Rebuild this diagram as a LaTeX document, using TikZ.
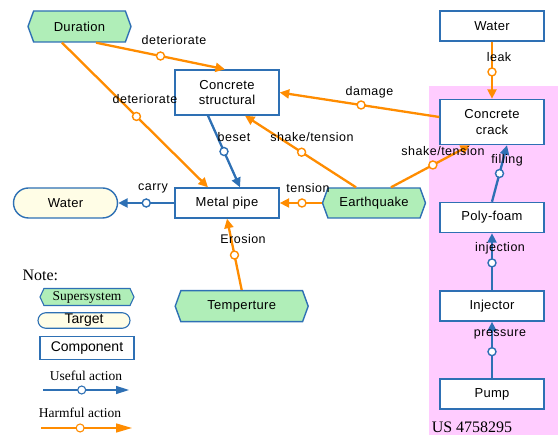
\documentclass[tikz,border=0pt]{standalone}
\usepackage{fontspec}
\setmainfont{Liberation Serif}
\newfontfamily\nodefont[LetterSpace=2.5]{Liberation Sans}
\newfontfamily\labfont[LetterSpace=4]{Liberation Sans}
\newfontfamily\plainsans{Liberation Sans}
\usetikzlibrary{shapes.symbols,arrows.meta,calc}
\definecolor{orn}{RGB}{255,140,0}
\definecolor{blu}{RGB}{46,112,180}
\definecolor{grn}{RGB}{176,238,184}
\definecolor{ivo}{RGB}{255,253,230}
\definecolor{pnk}{RGB}{255,204,255}
\tikzset{
  comp/.style={draw=blu, line width=1.4pt, fill=white, inner sep=0pt, minimum width=104pt, minimum height=30pt, align=center, font=\nodefont\fontsize{13}{15.5}\selectfont},
  hexbox/.style={shape=signal, signal to=east and west, signal pointer angle=140, draw=blu, fill=grn, line width=1.4pt, inner sep=0pt, minimum height=30pt, font=\nodefont\fontsize{13}{15.5}\selectfont},
  targetbox/.style={draw=blu, fill=ivo, line width=1.4pt, rounded corners=15pt, inner sep=0pt, minimum width=104pt, minimum height=30pt, font=\nodefont\fontsize{13}{15.5}\selectfont},
  harm/.style={draw=orn, line width=2.3pt, -{Triangle[length=9.5pt,width=9pt]}},
  useful/.style={draw=blu, line width=2.3pt, -{Triangle[length=9.5pt,width=9pt]}},
  dotO/.style={circle, draw=orn, fill=white, line width=1.4pt, inner sep=0pt, minimum size=8pt},
  dotB/.style={circle, draw=blu, fill=white, line width=1.4pt, inner sep=0pt, minimum size=8pt},
  lab/.style={inner sep=0pt, font=\labfont\fontsize{12.5}{14}\selectfont},
  legtext/.style={inner sep=0pt, font=\fontsize{13.5}{15}\selectfont},
}
\begin{document}
\begin{tikzpicture}[x=1pt,y=-1pt]
\useasboundingbox (0,0) rectangle (558,435);
\fill[pnk] (429,86) rectangle (558,435);

% nodes
\node[hexbox, minimum width=103pt, minimum height=31pt] (dur) at (79.5,26.5) {Duration};
\node[comp, minimum height=45pt] (cs) at (227,92.5) {Concrete\\structural};
\node[comp] (wtr) at (492,26) {Water};
\node[comp, minimum height=45pt] (crk) at (492,122) {Concrete\\crack};
\node[comp] (mp) at (227,203) {Metal pipe};
\node[targetbox] (wtl) at (65.5,203) {Water};
\node[hexbox, minimum width=103pt] (eq) at (374,203) {Earthquake};
\node[comp] (pf) at (492,217.5) {Poly-foam};
\node[comp] (inj) at (492,306) {Injector};
\node[comp] (pump) at (492,394) {Pump};
\node[hexbox, minimum width=133pt, minimum height=31pt] (temp) at (241.7,306.2) {Temperture};

% connectors
\draw[harm] ($(dur.south)+(16.5,0)$) -- node[dotO, pos=.5] (c1) {} ($(cs.north)+(-2,0)$);
\draw[harm] ($(dur.south)+(-17.5,0)$) -- node[dotO, pos=.51] (c2) {} ($(mp.north)+(-19,0)$);
\draw[useful] ($(cs.south)+(-19,0)$) -- node[dotB, pos=.5] (c3) {} ($(mp.north)+(13,0)$);
\draw[harm] ($(crk.west)+(0,-5)$) -- node[dotO, pos=.49] (c4) {} (cs.east);
\draw[harm] (wtr.south) -- node[dotO, pos=.53] (c5) {} (crk.north);
\draw[harm] ($(eq.north)+(-18,0)$) -- node[dotO, pos=.49] (c6) {} ($(cs.south)+(18,0)$);
\draw[harm] ($(eq.north)+(17,0)$) -- node[dotO, pos=.53] (c7) {} ($(crk.south)+(-22,0)$);
\draw[harm] (eq.west) -- node[dotO, pos=.47] (c8) {} (mp.east);
\draw[useful] (pf.north) -- node[dotB, pos=.5] (c9) {} ($(crk.south)+(15,0)$);
\draw[useful] (inj.north) -- node[dotB, pos=.48] (c10) {} (pf.south);
\draw[useful] (pump.north) -- node[dotB, pos=.47] (c11) {} (inj.south);
\draw[useful] (mp.west) -- node[dotB, pos=.5] (c12) {} (wtl.east);
\draw[harm] (temp.north) -- node[dotO, pos=.49] (c13) {} (mp.south);

% labels
\node[lab] (l1) at (174,40) {deteriorate};
\node[lab] (l2) at (145,99.5) {deteriorate};
\node[lab] (l3) at (234,137) {beset};
\node[lab] (l4) at (369.5,92) {damage};
\node[lab] (l5) at (499,57) {leak};
\node[lab] (l6) at (312,137) {shake/tension};
\node[lab] (l7) at (443,151) {shake/tension};
\node[lab] (l8) at (308,188) {tension};
\node[lab] (l9) at (507,160) {filling};
\node[lab] (l10) at (500,248) {injection};
\node[lab] (l11) at (500,334.5) {pressure};
\node[lab] (l12) at (153,188) {carry};
\node[lab] (l13) at (243,239.5) {Erosion};

% legend
\node[inner sep=0pt, font=\fontsize{16}{18}\selectfont] (note) at (40.3,275) {Note:};
\node[hexbox, minimum width=94pt, minimum height=17pt, signal pointer angle=130, line width=1.1pt, font=\fontsize{13.5}{15}\selectfont] (lsup) at (87,297) {Supersystem};
\node[targetbox, minimum width=92pt, minimum height=15.5pt, rounded corners=7.75pt, line width=1.1pt, font=\plainsans\fontsize{14}{15}\selectfont] (ltar) at (84,320.5) {Target};
\node[comp, minimum width=94pt, minimum height=22.5pt, font=\plainsans\fontsize{14}{15}\selectfont] (lcomp) at (87,348) {Component};
\node[legtext] (luse) at (86,375.5) {Useful action};
\coordinate (ua) at (43,390);
\coordinate (ub) at (129,390);
\draw[draw=blu, line width=1.5pt, -{Triangle[length=13pt,width=8pt]}] (ua) -- node[dotB, pos=.45, line width=1.1pt] (cu) {} (ub);
\node[legtext] (lharm) at (80,412.5) {Harmful action};
\coordinate (ha) at (41,428);
\coordinate (hb) at (132,428);
\draw[draw=orn, line width=1.5pt, -{Triangle[length=16pt,width=9pt]}] (ha) -- node[dotO, pos=.43, line width=1.1pt] (ch) {} (hb);
\node[inner sep=0pt, font=\fontsize{16}{18}\selectfont] (us) at (472,427.5) {US 4758295};
\end{tikzpicture}
\end{document}
